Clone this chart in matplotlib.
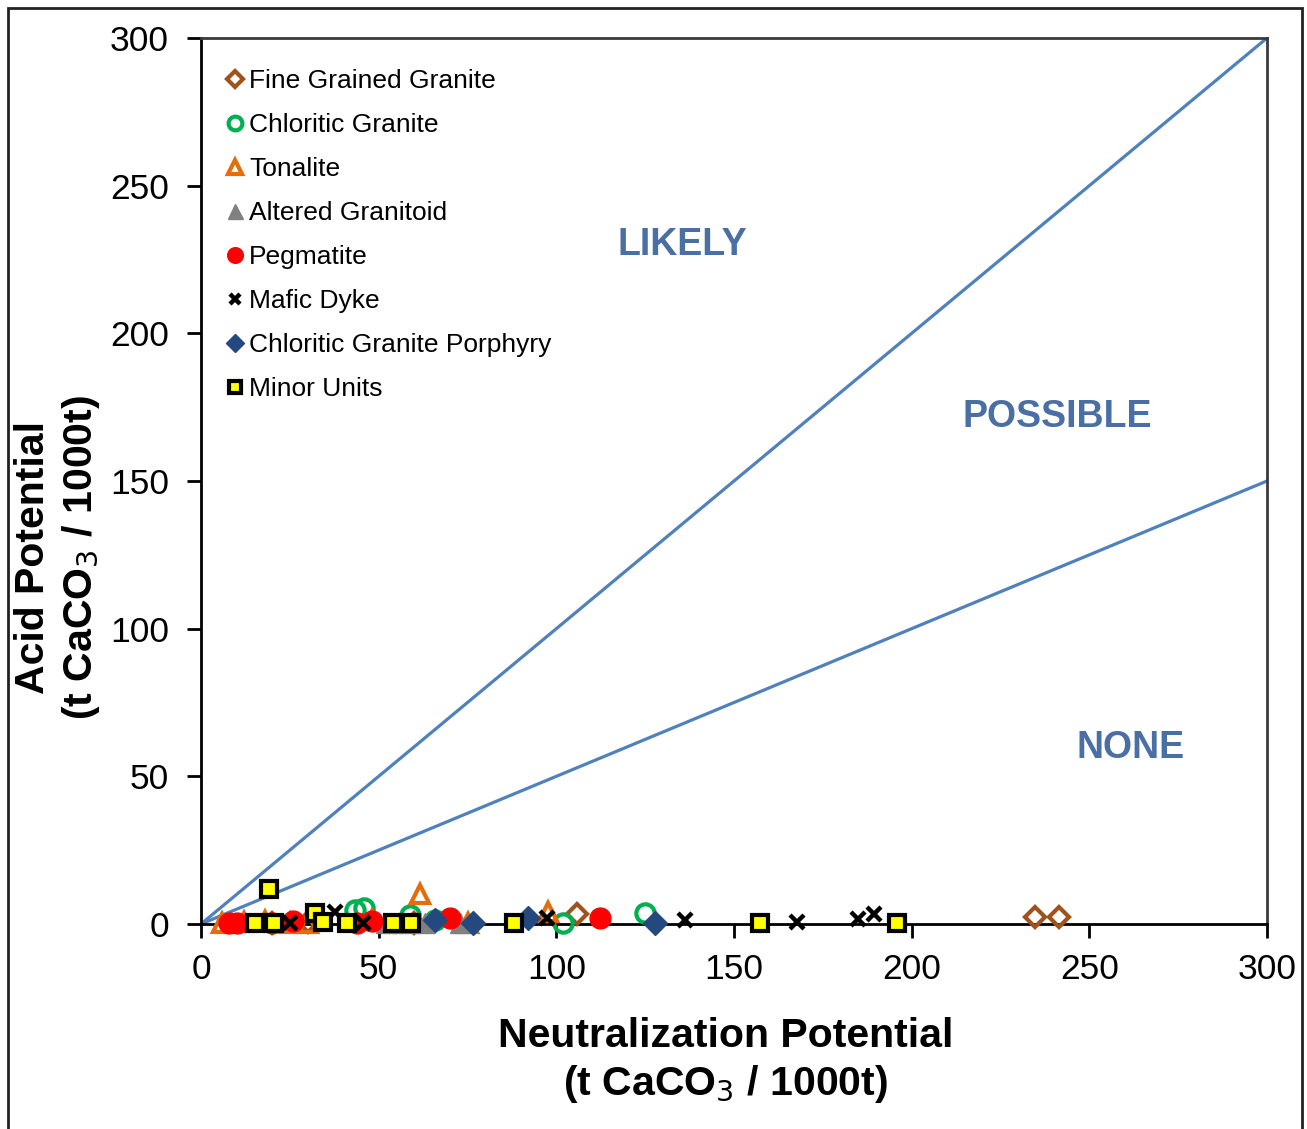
import matplotlib
matplotlib.use("Agg")
import matplotlib.pyplot as plt
from matplotlib.patches import Rectangle

plt.rcParams['font.family'] = ['Liberation Sans', 'DejaVu Sans']

# ---- data (t CaCO3 / 1000t) ----
fgg_np = [20, 30, 60, 105.8, 234.7, 241.5]
fgg_ap = [0.5, 0.8, 0.5, 3.5, 2.4, 2.4]

cg_np = [43.3, 46, 58.8, 65.9, 101.9, 125]
cg_ap = [4.7, 5.4, 3.0, 1.4, 0.3, 3.7]

ton_np = [6, 12, 18, 25, 30, 48, 61.6, 75, 97.7]
ton_ap = [0.3, 0.8, 1.0, 0.5, 0.3, 1.5, 10.2, 0.5, 4.0]

alt_np = [52, 57, 63, 73]
alt_ap = [0.5, 0.3, 0.4, 0.5]

peg_np = [8, 10, 20, 26, 44, 48, 70, 112.3]
peg_ap = [0.5, 0.3, 0.5, 1.0, 0.5, 1.0, 2.2, 2.0]

maf_np = [25, 37.7, 45.6, 97.4, 136.2, 167.7, 185, 189.4]
maf_ap = [0.5, 4.0, 0.5, 2.0, 1.3, 0.7, 1.7, 3.4]

cgp_np = [65.9, 76.5, 92, 127.8]
cgp_ap = [1.3, 0.3, 2.0, 0.3]

min_np = [15.2, 19.1, 20.5, 32.1, 34.3, 41.1, 54, 59.1, 88.1, 157.3, 195.9]
min_ap = [0.3, 11.8, 0.3, 3.7, 0.7, 0.3, 0.3, 0.3, 0.3, 0.3, 0.3]

line_x = [0, 300]
likely_y = [0, 300]     # AP = NP
possible_y = [0, 150]   # AP = NP/2

xticks = [0, 50, 100, 150, 200, 250, 300]
yticks = [0, 50, 100, 150, 200, 250, 300]

fig = plt.figure(figsize=(13.07, 11.29), dpi=100)
ax = fig.add_axes([201/1307, 1-924/1129, (1267-201)/1307, (924-38)/1129])

lc = '#4F81BD'
ax.plot(line_x, likely_y, color=lc, lw=2.3, zorder=1)
ax.plot(line_x, possible_y, color=lc, lw=2.3, zorder=1)

ms = 12
series = [
    (fgg_np, fgg_ap, 'Fine Grained Granite', dict(marker='D', mfc='none', mec='#A0521C', mew=3, ms=ms*0.85)),
    (cg_np, cg_ap, 'Chloritic Granite', dict(marker='o', mfc='none', mec='#00B050', mew=3, ms=ms*1.1)),
    (ton_np, ton_ap, 'Tonalite', dict(marker='^', mfc='none', mec='#E46C0A', mew=3, ms=ms*1.1)),
    (alt_np, alt_ap, 'Altered Granitoid', dict(marker='^', mfc='#808080', mec='#808080', mew=1, ms=ms*1.2)),
    (peg_np, peg_ap, 'Pegmatite', dict(marker='o', mfc='#FF0000', mec='#FF0000', mew=1, ms=ms*1.25)),
    (maf_np, maf_ap, 'Mafic Dyke', dict(marker='x', mfc='black', mec='black', mew=3.2, ms=ms*0.8)),
    (cgp_np, cgp_ap, 'Chloritic Granite Porphyry', dict(marker='D', mfc='#24497F', mec='#24497F', mew=1, ms=ms*1.0)),
    (min_np, min_ap, 'Minor Units', dict(marker='s', mfc='#FFFF00', mec='black', mew=3, ms=ms*1.0)),
]
for xs, ys, lab, st in series:
    ax.plot(xs, ys, linestyle='none', label=lab, zorder=3, clip_on=False, **st)

ax.set_xlim(0, 300)
ax.set_ylim(0, 300)
ax.set_xticks(xticks)
ax.set_yticks(yticks)
ax.tick_params(axis='both', direction='out', length=10, width=2, labelsize=25.5, colors='black')
ax.tick_params(axis='y', pad=13)
ax.tick_params(axis='x', pad=11)
for s in ['left', 'bottom']:
    ax.spines[s].set_color('black')
    ax.spines[s].set_linewidth(2)
for s in ['top', 'right']:
    ax.spines[s].set_color('#3a3a3a')
    ax.spines[s].set_linewidth(2)

ax.set_xlabel('Neutralization Potential\n(t CaCO$_3$ / 1000t)', fontsize=29.5, fontweight='bold',
              linespacing=1.26)
ax.set_ylabel('Acid Potential\n(t CaCO$_3$ / 1000t)', fontsize=29.5, fontweight='bold',
              linespacing=1.26)
ax.xaxis.set_label_coords((726-201)/1066, -(1061-924)/886)
ax.yaxis.set_label_coords(-(201-58)/1066, 1-(557-38)/886)
ax.xaxis.label.set_va('center')
ax.yaxis.label.set_va('center')

tc = '#4A6FA5'
ax.text(135.4, 229.9, 'LIKELY', color=tc, fontsize=27, fontweight='bold', ha='center', va='center')
ax.text(241, 171.7, 'POSSIBLE', color=tc, fontsize=27, fontweight='bold', ha='center', va='center')
ax.text(261.5, 59.6, 'NONE', color=tc, fontsize=27, fontweight='bold', ha='center', va='center')

leg = ax.legend(loc='upper left', bbox_to_anchor=(0.015, 0.977), frameon=False, fontsize=19,
                markerscale=0.75, handlelength=0.6, handletextpad=0.22, labelspacing=0.76,
                borderaxespad=0.0, numpoints=1)

fig.patches.append(Rectangle((8/1307, -0.05), (1302-8)/1307, 1.05-8/1129,
                             transform=fig.transFigure, fill=False, edgecolor='#222222', lw=2))

fig.savefig('out.png', dpi=100)
